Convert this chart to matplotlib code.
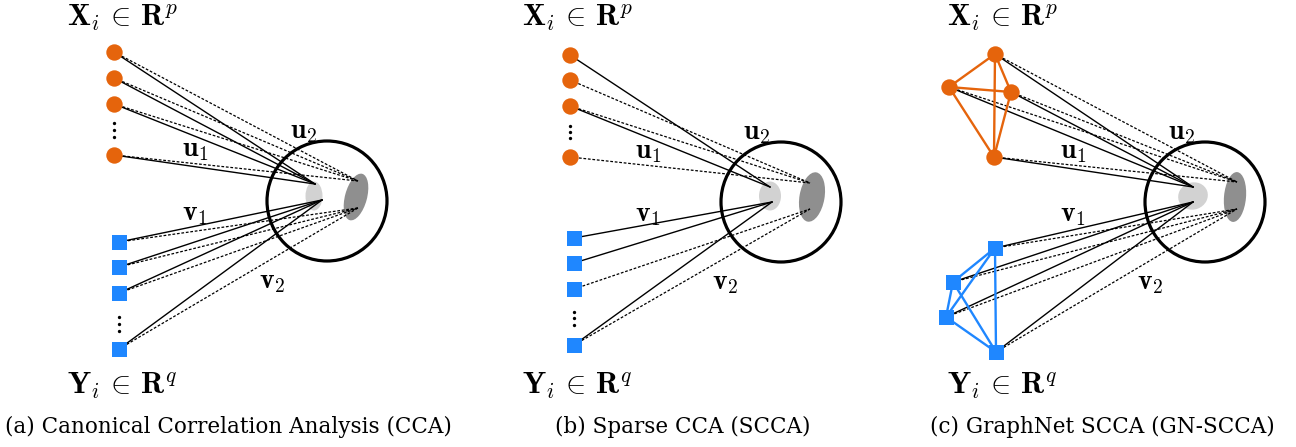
import matplotlib
matplotlib.use("Agg")
import matplotlib.pyplot as plt
from matplotlib.patches import Circle, Ellipse

plt.rcParams['mathtext.fontset'] = 'cm'

W, H = 1296, 447

# ---- data (pixel layout of the diagram) ----
# panel (a) CCA
a_x_nodes_x = [114, 114, 114, 114]
a_x_nodes_y = [52, 78, 104, 155]
a_y_nodes_x = [119, 119, 119, 119]
a_y_nodes_y = [242, 267, 293, 349]
a_x_solid = [1, 1, 1, 1]
a_x_dash = [1, 1, 1, 1]
a_y_solid = [1, 1, 1, 1]
a_y_dash = [1, 1, 1, 1]
a_xdots = ([114, 114, 114], [123, 130, 137])
a_ydots = ([119, 119, 119], [317, 324, 331])

# panel (b) SCCA
b_x_nodes_x = [570, 570, 570, 570]
b_x_nodes_y = [55, 80, 106, 157]
b_y_nodes_x = [574, 574, 574, 574]
b_y_nodes_y = [238, 263, 289, 345]
b_x_solid = [1, 0, 1, 0]
b_x_dash = [0, 1, 1, 1]
b_y_solid = [1, 1, 0, 1]
b_y_dash = [0, 0, 1, 1]
b_xdots = ([570, 570, 570], [126, 132, 138])
b_ydots = ([574, 574, 574], [312, 318, 325])

# panel (c) GN-SCCA
c_x_nodes_x = [995, 949, 1011, 994]
c_x_nodes_y = [54, 87, 92, 157]
c_y_nodes_x = [995, 953, 946, 996]
c_y_nodes_y = [248, 282, 317, 352]
c_x_solid = [1, 1, 1, 1]
c_x_dash = [1, 1, 1, 1]
c_y_solid = [1, 1, 1, 1]
c_y_dash = [1, 1, 1, 1]
c_graph_edges = [(0, 1), (0, 2), (0, 3), (1, 2), (1, 3), (2, 3)]

# circle centers / projection spaces
circle_cx = [327, 781, 1205]
circle_cy = [201, 202, 202]
circle_r = 60
light_cx = [314, 770, 1193]
light_cy = [196, 196, 196]
light_w = [17, 22, 30]
light_h = [29, 29, 27]
light_ang = [0, 0, -20]
dark_cx = [356, 812, 1235]
dark_cy = [197, 197, 197]
dark_w = [22, 25, 22]
dark_h = [48, 50, 50]
dark_ang = [15, 10, 5]
# convergence points: light-top, light-bottom, dark-top, dark-bottom
conv_lt = [(315, 184), (770, 187), (1193, 187)]
conv_lb = [(322, 200), (772, 202), (1193, 202)]
conv_dt = [(358, 181), (810, 183), (1237, 182)]
conv_db = [(358, 208), (810, 209), (1237, 209)]

label_u2 = [(304, 131), (757, 132), (1182, 132)]
label_u1 = [(195, 149), (648, 151), (1073, 151)]
label_v1 = [(195, 213), (648, 214), (1073, 214)]
label_v2 = [(272, 281), (725, 282), (1150, 282)]
title_x = [122, 577, 1002]
title_top_y = 18
title_bot_y = 386
captions = ["(a) Canonical Correlation Analysis (CCA)",
            "(b) Sparse CCA (SCCA)",
            "(c) GraphNet SCCA (GN-SCCA)"]
caption_x = [228, 683, 1102]
caption_y = 427

ORANGE = '#E5640C'
BLUE = '#1F87FF'

fig = plt.figure(figsize=(W / 100, H / 100), dpi=100)
ax = fig.add_axes([0, 0, 1, 1])
ax.set_xlim(0, W)
ax.set_ylim(H, 0)
ax.axis('off')

panels = [
    (a_x_nodes_x, a_x_nodes_y, a_y_nodes_x, a_y_nodes_y, a_x_solid, a_x_dash, a_y_solid, a_y_dash),
    (b_x_nodes_x, b_x_nodes_y, b_y_nodes_x, b_y_nodes_y, b_x_solid, b_x_dash, b_y_solid, b_y_dash),
    (c_x_nodes_x, c_x_nodes_y, c_y_nodes_x, c_y_nodes_y, c_x_solid, c_x_dash, c_y_solid, c_y_dash),
]

dash = (0, (2.2, 1.4))
for i, (xx, xy, yx, yy, xs, xd, ys, yd) in enumerate(panels):
    # projection space
    ax.add_patch(Ellipse((light_cx[i], light_cy[i]), light_w[i], light_h[i], angle=light_ang[i],
                         facecolor='#d2d2d2', edgecolor='none', zorder=1))
    ax.add_patch(Ellipse((dark_cx[i], dark_cy[i]), dark_w[i], dark_h[i], angle=dark_ang[i],
                         facecolor='#8f8f8f', edgecolor='none', zorder=1))
    ax.add_patch(Circle((circle_cx[i], circle_cy[i]), circle_r, facecolor='none',
                        edgecolor='black', lw=2.3, zorder=3))
    # connections
    for k in range(4):
        if xs[k]:
            ax.plot([xx[k], conv_lt[i][0]], [xy[k], conv_lt[i][1]], color='black', lw=1.0, zorder=2)
        if xd[k]:
            ax.plot([xx[k], conv_dt[i][0]], [xy[k], conv_dt[i][1]], color='black', lw=0.9,
                    linestyle=dash, zorder=2)
        if ys[k]:
            ax.plot([yx[k], conv_lb[i][0]], [yy[k], conv_lb[i][1]], color='black', lw=1.0, zorder=2)
        if yd[k]:
            ax.plot([yx[k], conv_db[i][0]], [yy[k], conv_db[i][1]], color='black', lw=0.9,
                    linestyle=dash, zorder=2)
    # graph structure for GN-SCCA
    if i == 2:
        for (p, q) in c_graph_edges:
            ax.plot([xx[p], xx[q]], [xy[p], xy[q]], color=ORANGE, lw=1.7, zorder=4)
            ax.plot([yx[p], yx[q]], [yy[p], yy[q]], color=BLUE, lw=1.7, zorder=4)
    # nodes
    ax.plot(xx, xy, 'o', color=ORANGE, markersize=11.8, markeredgewidth=0, zorder=5)
    ax.plot(yx, yy, 's', color=BLUE, markersize=10.8, markeredgewidth=0, zorder=5)

    # labels
    fs = 20
    ax.text(*label_u2[i], r'$\mathbf{u}_2$', fontsize=fs, ha='center', va='center', zorder=6)
    ax.text(*label_u1[i], r'$\mathbf{u}_1$', fontsize=fs, ha='center', va='center', zorder=6)
    ax.text(*label_v1[i], r'$\mathbf{v}_1$', fontsize=fs, ha='center', va='center', zorder=6)
    ax.text(*label_v2[i], r'$\mathbf{v}_2$', fontsize=fs, ha='center', va='center', zorder=6)
    ax.text(title_x[i], title_top_y, r'$\mathbf{X}_i\,\in\,\mathbf{R}^p$', fontsize=22,
            ha='center', va='center')
    ax.text(title_x[i], title_bot_y, r'$\mathbf{Y}_i\,\in\,\mathbf{R}^q$', fontsize=22,
            ha='center', va='center')
    ax.text(caption_x[i], caption_y, captions[i], fontsize=15.5, family='DejaVu Serif',
            ha='center', va='center')

for dots in (a_xdots, a_ydots, b_xdots, b_ydots):
    ax.plot(dots[0], dots[1], 'o', color='black', markersize=2.4, markeredgewidth=0)

fig.savefig('out.png', dpi=100)
